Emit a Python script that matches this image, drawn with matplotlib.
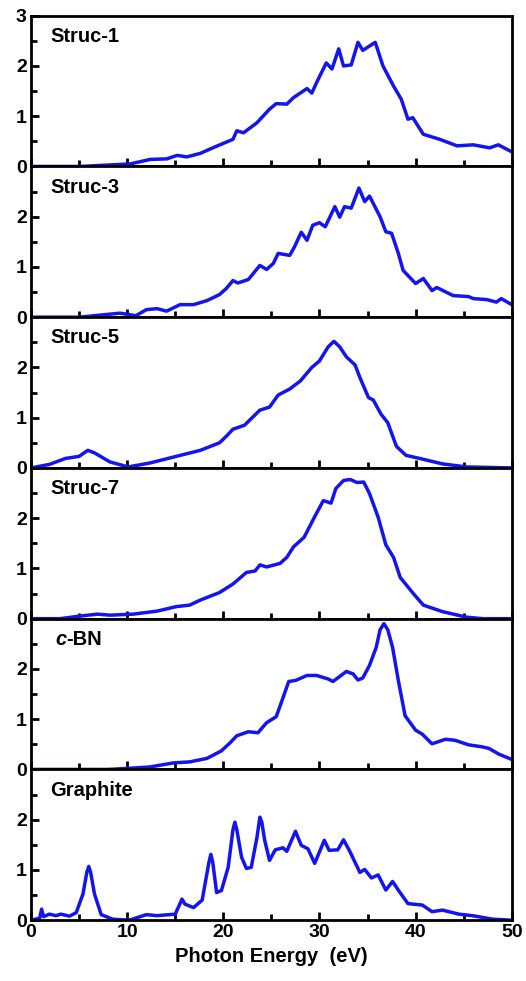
import numpy as np
import matplotlib
matplotlib.use("Agg")
import matplotlib.pyplot as plt
from matplotlib.ticker import MultipleLocator

plt.rcParams['font.family'] = ['Liberation Sans', 'DejaVu Sans']
plt.rcParams['font.weight'] = 'bold'

# Data (photon energy in eV, intensity)
struc1_e = [0, 5.1, 10.3, 12.4, 14.1, 15.2, 16.2, 17.6, 18.9, 21.0, 21.4, 22.1, 23.5, 24.8, 25.5,
            26.6, 27.3, 28.7, 29.2, 29.7, 30.7, 31.3, 32.0, 32.5, 33.3, 34.0, 34.5, 35.8, 36.6,
            37.7, 38.5, 39.2, 39.7, 40.8, 42.5, 44.3, 46.0, 47.7, 48.6, 50.0]
struc1_v = [0, 0, 0.05, 0.14, 0.15, 0.22, 0.19, 0.26, 0.37, 0.54, 0.71, 0.67, 0.87, 1.14, 1.25,
            1.24, 1.37, 1.55, 1.46, 1.67, 2.06, 1.94, 2.34, 2.0, 2.02, 2.47, 2.31, 2.47, 2.0,
            1.6, 1.34, 0.94, 0.97, 0.64, 0.54, 0.41, 0.43, 0.37, 0.43, 0.29]

struc3_e = [0, 5.0, 9.25, 10.9, 12.0, 13.1, 14.1, 15.5, 16.9, 18.3, 19.6, 20.3, 21.0, 21.5, 22.6,
            23.8, 24.5, 25.2, 25.7, 26.9, 27.4, 28.1, 28.7, 29.3, 30.0, 30.6, 31.6, 32.1, 32.6,
            33.3, 34.1, 34.7, 35.2, 36.3, 36.9, 37.5, 38.2, 38.7, 40.0, 40.8, 41.7, 42.2, 43.9,
            45.5, 46.0, 47.4, 48.4, 48.9, 50.0]
struc3_v = [0, 0, 0.08, 0.03, 0.15, 0.17, 0.12, 0.25, 0.25, 0.33, 0.45, 0.57, 0.73, 0.68, 0.75,
            1.03, 0.95, 1.07, 1.27, 1.23, 1.4, 1.69, 1.53, 1.83, 1.88, 1.8, 2.2, 1.99, 2.2,
            2.17, 2.57, 2.3, 2.41, 2.0, 1.7, 1.67, 1.27, 0.93, 0.67, 0.77, 0.53, 0.59, 0.43,
            0.41, 0.37, 0.35, 0.3, 0.37, 0.25]

struc5_e = [0, 1.9, 3.6, 5.0, 5.9, 6.6, 8.2, 10.1, 12.4, 15.1, 17.6, 19.6, 20.3, 21.0, 22.2,
            23.8, 24.8, 25.7, 26.9, 28.0, 29.2, 30.0, 30.9, 31.5, 32.1, 32.8, 33.7, 34.2, 35.1,
            35.6, 36.4, 37.1, 38.0, 39.0, 40.4, 42.8, 45.3, 50.0]
struc5_v = [0, 0.07, 0.19, 0.23, 0.35, 0.3, 0.12, 0.02, 0.1, 0.23, 0.35, 0.5, 0.63, 0.77, 0.85,
            1.15, 1.21, 1.45, 1.57, 1.73, 2.0, 2.13, 2.41, 2.52, 2.41, 2.21, 2.05, 1.8, 1.4,
            1.35, 1.07, 0.9, 0.43, 0.25, 0.19, 0.08, 0.02, 0]

struc7_e = [0, 3.0, 5.0, 6.9, 8.2, 10.6, 13.1, 15.1, 16.5, 17.6, 19.6, 21.0, 22.4, 23.3, 23.8,
            24.5, 25.9, 26.6, 27.3, 28.4, 29.5, 30.4, 31.2, 31.7, 32.5, 33.2, 33.9, 34.6, 35.2,
            36.1, 36.9, 37.7, 38.4, 39.8, 40.8, 42.8, 45.3, 47.0, 50.0]
struc7_v = [0, 0, 0.05, 0.09, 0.07, 0.09, 0.15, 0.24, 0.27, 0.37, 0.52, 0.69, 0.92, 0.95, 1.07,
            1.03, 1.1, 1.22, 1.43, 1.62, 2.03, 2.35, 2.3, 2.59, 2.75, 2.77, 2.71, 2.72, 2.49,
            2.02, 1.47, 1.22, 0.82, 0.49, 0.27, 0.14, 0.03, 0, 0]

cbn_e = [0, 8.0, 10.0, 12.4, 14.8, 16.5, 18.3, 19.8, 20.7, 21.4, 22.6, 23.6, 24.5, 25.5, 26.1,
         26.8, 27.5, 28.7, 29.7, 30.9, 31.4, 32.8, 33.5, 34.0, 34.5, 35.2, 35.9, 36.3, 36.7, 37.1,
         37.6, 38.2, 38.9, 40.0, 40.7, 41.7, 43.1, 44.1, 45.5, 46.9, 47.6, 48.7, 50.0]
cbn_v = [0, 0, 0.02, 0.05, 0.13, 0.15, 0.22, 0.37, 0.53, 0.67, 0.75, 0.73, 0.93, 1.05, 1.37,
         1.75, 1.77, 1.87, 1.87, 1.8, 1.75, 1.95, 1.9, 1.78, 1.82, 2.07, 2.43, 2.78, 2.9, 2.78,
         2.43, 1.77, 1.07, 0.78, 0.7, 0.51, 0.6, 0.58, 0.49, 0.45, 0.42, 0.3, 0.2]

graphite_e = [0, 0.9, 1.1, 1.3, 1.9, 2.6, 3.1, 4.0, 4.7, 5.4, 5.8, 6.0, 6.2, 6.6, 7.3, 8.5, 10.2,
              12.0, 13.1, 15.0, 15.7, 16.0, 16.9, 17.8, 18.5, 18.7, 18.9, 19.3, 19.8, 20.5, 21.0,
              21.2, 21.4, 21.9, 22.4, 22.9, 23.5, 23.8, 24.0, 24.3, 24.8, 25.4, 26.2, 26.6, 27.5,
              28.1, 28.8, 29.5, 30.5, 31.0, 31.9, 32.5, 33.1, 34.2, 34.7, 35.4, 36.1, 36.9, 37.6,
              38.3, 39.2, 40.7, 41.7, 42.8, 44.5, 45.9, 48.0, 50.0]
graphite_v = [0, 0.04, 0.22, 0.07, 0.12, 0.09, 0.12, 0.08, 0.15, 0.52, 0.95, 1.07, 0.95, 0.52, 0.11,
              0.02, 0, 0.11, 0.09, 0.12, 0.42, 0.32, 0.25, 0.4, 1.15, 1.31, 1.15, 0.55, 0.59, 1.05,
              1.8, 1.95, 1.8, 1.25, 1.03, 1.05, 1.65, 2.05, 1.95, 1.59, 1.19, 1.4, 1.44, 1.37, 1.77,
              1.49, 1.42, 1.13, 1.59, 1.39, 1.4, 1.6, 1.39, 0.95, 1.01, 0.84, 0.9, 0.6, 0.77,
              0.57, 0.33, 0.3, 0.17, 0.2, 0.12, 0.09, 0.02, 0]

names = ["Struc-1", "Struc-3", "Struc-5", "Struc-7", "c-BN", "Graphite"]
energies = [struc1_e, struc3_e, struc5_e, struc7_e, cbn_e, graphite_e]
values = [struc1_v, struc3_v, struc5_v, struc7_v, cbn_v, graphite_v]

fig, axes = plt.subplots(6, 1, figsize=(5.26, 9.81), dpi=100, sharex=True)
fig.subplots_adjust(left=0.059, right=0.973, top=0.984, bottom=0.062, hspace=0)

for i, ax in enumerate(axes):
    ax.plot(energies[i], values[i], color="#1414f0", lw=2.5, solid_joinstyle="round")
    ax.set_xlim(0, 50)
    ax.set_ylim(0, 3)
    ax.xaxis.set_major_locator(MultipleLocator(10))
    ax.xaxis.set_minor_locator(MultipleLocator(5))
    ax.yaxis.set_minor_locator(MultipleLocator(0.5))
    if i == 0:
        ax.set_yticks([0, 1, 2, 3])
    else:
        ax.set_yticks([0, 1, 2])
    ax.tick_params(which="both", direction="in", width=2, labelsize=14, pad=3)
    ax.tick_params(which="major", length=6)
    ax.tick_params(which="minor", length=4)
    for s in ax.spines.values():
        s.set_linewidth(2)
    for lab in ax.get_xticklabels() + ax.get_yticklabels():
        lab.set_fontweight("bold")

    if names[i] == "c-BN":
        t = ax.text(0.05, 0.80, "c", transform=ax.transAxes, fontsize=14.5,
                    fontweight="bold", style="italic", va="bottom")
        ax.annotate("-BN", xy=(1, 0), xycoords=t, fontsize=14.5, fontweight="bold",
                    va="bottom", ha="left")
    else:
        ax.text(0.04, 0.80, names[i], transform=ax.transAxes, fontsize=14.5,
                fontweight="bold", va="bottom")

axes[-1].set_xlabel("Photon Energy  (eV)", fontsize=14.5, fontweight="bold", labelpad=4)

fig.savefig("out.png", dpi=100)
